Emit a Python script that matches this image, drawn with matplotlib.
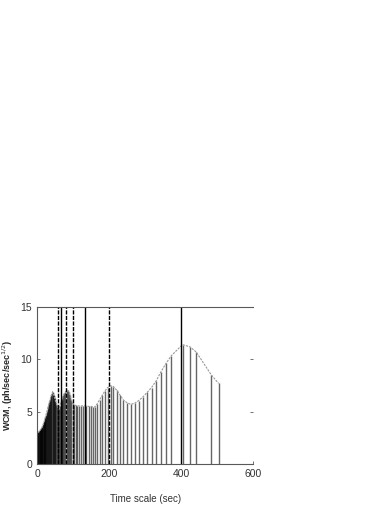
import matplotlib
matplotlib.use('Agg')
import matplotlib.pyplot as plt

plt.rcParams['font.family'] = ['Liberation Sans', 'DejaVu Sans']

# escala temporal (s) y valor WCM en cada punto
tiempo = [1, 2, 3, 4, 5, 6, 7, 8, 9, 10, 11, 12, 13, 14, 15, 16, 17, 18, 19, 20,
          21, 22, 23, 24, 25, 26.5, 28, 29.5, 31, 32.5, 34, 35.5, 37, 38.5, 40,
          41.5, 43, 44.5, 46, 47.5, 49, 51, 53, 55, 57, 59, 61, 63, 65.5, 68,
          70.5, 73, 76, 79, 82, 85, 88, 91.5, 95, 99, 103, 107, 112, 117, 122,
          127, 132, 137, 143, 149, 155, 161, 167, 174, 181, 188, 196, 204, 212,
          221, 230, 240, 250, 260, 271, 282, 294, 306, 318, 331, 344, 358, 373,
          404, 424, 442, 484, 504]
wcm = [3.0, 3.0, 3.05, 3.05, 3.1, 3.15, 3.2, 3.2, 3.25, 3.3, 3.35, 3.4, 3.45, 3.5,
       3.6, 3.7, 3.8, 3.9, 4.0, 4.1, 4.2, 4.35, 4.45, 4.6, 4.7, 4.9, 5.1, 5.3,
       5.5, 5.7, 5.9, 6.05, 6.25, 6.45, 6.6, 6.75, 6.9, 6.75, 6.6, 6.45, 6.3,
       6.05, 5.8, 5.6, 5.45, 5.35, 5.3, 5.55, 5.85, 6.1, 6.35, 6.55, 6.75, 6.9,
       7.0, 7.05, 6.85, 6.55, 6.1, 5.75, 5.65, 5.6, 5.55, 5.55, 5.55, 5.55, 5.55,
       5.55, 5.5, 5.5, 5.45, 5.45, 5.75, 6.15, 6.55, 6.95, 7.3, 7.48, 7.4, 7.05,
       6.6, 6.1, 5.85, 5.7, 5.8, 6.05, 6.4, 6.85, 7.3, 7.95, 8.8, 9.6, 10.35,
       11.4, 11.2, 10.7, 8.5, 7.7]

# periodos armonicos (lineas verticales) y su estilo
armonicos = [400, 200, 400 / 3, 100, 80, 400 / 6, 400 / 7]
estilos = ['-', '--', '-', '--', '--', '-', '--']

fig = plt.figure(figsize=(3.9, 5.05), dpi=100)
ax = fig.add_axes([0.095, 0.0812, 0.554, 0.311])

ax.vlines(tiempo, 0, wcm, color='black', alpha=0.6, lw=1.0)
ax.plot(tiempo, wcm, color='0.6', lw=0.8, ls=(0, (2, 1)))

for t, e in zip(armonicos, estilos):
    ax.axvline(t, color='black', lw=1.0, ls=e if e == '-' else (0, (3, 1)))

ax.set_xlim(0, 600)
ax.set_ylim(0, 15)
ax.set_xticks([0, 200, 400, 600])
ax.set_yticks([0, 5, 10, 15])

for lado in ['left', 'bottom', 'top']:
    ax.spines[lado].set_color('0.35')
    ax.spines[lado].set_linewidth(0.8)
ax.spines['right'].set_visible(False)
ax.tick_params(direction='in', length=2, width=0.6, colors='0.35',
               labelsize=7.5, labelcolor='0.2', right=True, top=False)

ax.set_xlabel('Time scale (sec)', fontsize=7, color='0.2')
ax.set_ylabel('WCM, (ph/sec/sec$^{1/2}$)', fontsize=6.5, color='0.15',
              fontweight='bold')
ax.xaxis.set_label_coords(0.5, -0.19)
ax.yaxis.set_label_coords(-0.10, 0.5)

fig.savefig('out.png', dpi=100)
